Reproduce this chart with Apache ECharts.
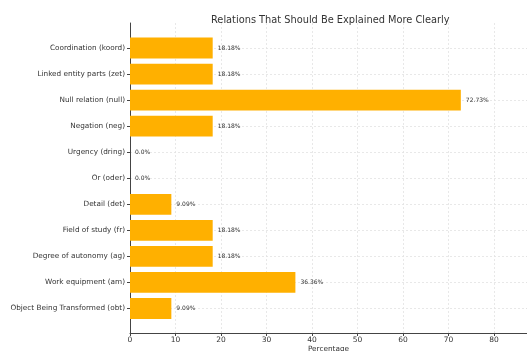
<!DOCTYPE html>
<html>
<head>
<meta charset="utf-8">
<script src="https://cdn.jsdelivr.net/npm/echarts@6/dist/echarts.min.js"></script>
<style>
  html, body { margin: 0; padding: 0; background: #fff; }
  #chart { width: 527px; height: 351px; }
</style>
</head>
<body>
<div id="chart"></div>
<script>
// Relation types, top to bottom
const categories = [
  'Coordination (koord)',
  'Linked entity parts (zet)',
  'Null relation (null)',
  'Negation (neg)',
  'Urgency (dring)',
  'Or (oder)',
  'Detail (det)',
  'Field of study (fr)',
  'Degree of autonomy (ag)',
  'Work equipment (am)',
  'Object Being Transformed (obt)'
];
// Share of responses per relation, in percent
const percentages = [18.18, 18.18, 72.73, 18.18, 0, 0, 9.09, 18.18, 18.18, 36.36, 9.09];
const xTicks = [0, 10, 20, 30, 40, 50, 60, 70, 80];

const xMax = Math.max(...percentages) * 1.2;
const font = 'DejaVu Sans';
const ink = '#333';
const gridLine = { show: true, lineStyle: { color: '#e2e2e2', type: [2, 2], width: 0.8 } };

function fmtPct(v) {
  return (Number.isInteger(v) ? v.toFixed(1) : String(v)) + '%';
}

const chart = echarts.init(document.getElementById('chart'), null, { renderer: 'canvas' });
chart.setOption({
  animation: false,
  backgroundColor: '#fff',
  title: {
    text: 'Relations That Should Be Explained More Clearly',
    left: 206, top: 10,
    textStyle: { fontFamily: font, fontSize: 9.8, fontWeight: 'normal', color: ink }
  },
  grid: [
    // axes frame: spines, x ticks, vertical grid lines
    { left: 130, right: 0, top: 23, bottom: 18, outerBoundsMode: 'none', containLabel: false },
    // bar area: category centres at the first/last ticks
    { left: 130, right: 0, top: 48, bottom: 42.5, outerBoundsMode: 'none', containLabel: false }
  ],
  xAxis: [
    {
      gridIndex: 0, type: 'value', min: 0, max: xMax, interval: 10,
      name: 'Percentage', nameLocation: 'middle', nameGap: 12.5, nameMoveOverlap: false,
      nameTextStyle: { fontFamily: font, fontSize: 7.3, color: ink },
      axisLine: { show: true, lineStyle: { color: '#444', width: 1 } },
      axisTick: { show: true, length: 3, lineStyle: { color: '#444' } },
      axisLabel: {
        fontFamily: font, fontSize: 7.5, color: ink, margin: 3, showMaxLabel: false,
        formatter: v => (xTicks.includes(v) ? String(v) : '')
      },
      splitLine: gridLine
    },
    {
      gridIndex: 1, type: 'value', min: 0, max: xMax, interval: 10,
      axisLine: { show: false }, axisTick: { show: false },
      axisLabel: { show: false }, splitLine: { show: false }
    }
  ],
  yAxis: [
    {
      gridIndex: 0, type: 'value', min: 0, max: 1,
      axisLine: { show: true, lineStyle: { color: '#444', width: 1 } },
      axisTick: { show: false }, axisLabel: { show: false }, splitLine: { show: false }
    },
    {
      gridIndex: 1, type: 'category', data: categories, inverse: true, boundaryGap: false,
      axisLine: { show: false },
      axisTick: { show: true, length: 3, lineStyle: { color: '#444' } },
      axisLabel: { fontFamily: font, fontSize: 7.3, color: ink, margin: 5 },
      splitLine: gridLine
    }
  ],
  series: [{
    type: 'bar',
    xAxisIndex: 1, yAxisIndex: 1,
    data: percentages,
    barWidth: '80%',
    clip: false,
    itemStyle: { color: '#FFB000' },
    label: {
      show: true, position: 'right', distance: 5,
      fontFamily: font, fontSize: 6, color: ink,
      formatter: p => fmtPct(p.value)
    }
  }]
});
</script>
</body>
</html>
